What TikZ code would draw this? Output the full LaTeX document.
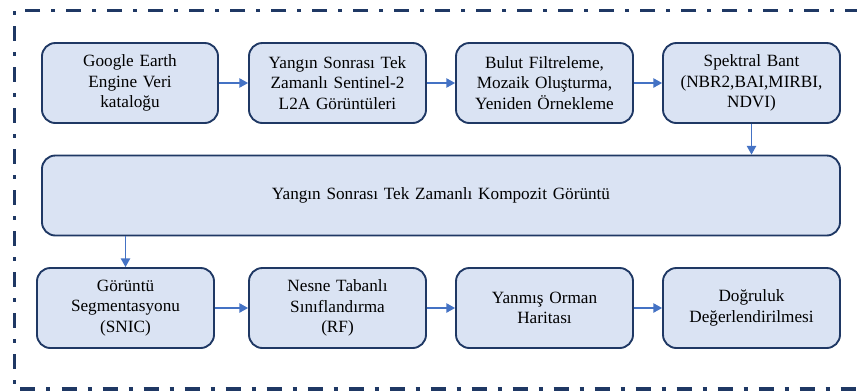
\documentclass[tikz,border=0pt]{standalone}
\usepackage{fontspec}
\setmainfont{Liberation Serif}
\usetikzlibrary{arrows.meta}
\definecolor{boxfill}{HTML}{DAE3F3}
\definecolor{boxline}{HTML}{1F3864}
\definecolor{arrowcol}{HTML}{4472C4}
\definecolor{framecol}{HTML}{1F3864}
\tikzset{
  procbox/.style={draw=boxline, line width=1.4pt, fill=boxfill, rounded corners=10pt,
    minimum height=60pt, text width=120pt, align=center, inner sep=0pt,
    font=\fontsize{12.9pt}{15.4pt}\selectfont},
  flow/.style={draw=arrowcol, line width=0.9pt, -{Triangle[length=6.5pt,width=7pt]}},
  frameline/.style={draw=framecol, line width=2.7pt, dash pattern=on 11.25pt off 8.25pt on 3pt off 8.25pt}
}
\begin{document}
\begin{tikzpicture}[x=0.75pt,y=-0.75pt]
\useasboundingbox (0,0) rectangle (857,390);
% frame
\coordinate (f1) at (860,10.5);
\coordinate (f2) at (14.5,10.5);
\coordinate (f3) at (14.5,389);
\coordinate (f4) at (860,389);
\draw[frameline] (f1) -- (f2) -- (f3) -- (f4);
% row 1
\node[procbox, minimum width=132pt] (a1) at (130,83) {Google Earth\\Engine Veri\\kataloğu};
\node[procbox, minimum width=132.75pt] (a2) at (337.5,83) {Yangın Sonrası Tek\\Zamanlı Sentinel-2\\L2A Görüntüleri};
\node[procbox, minimum width=132.75pt] (a3) at (544.5,83) {Bulut Filtreleme,\\Mozaik Oluşturma,\\Yeniden Örnekleme};
\node[procbox, minimum width=132.75pt] (a4) at (751.5,83) {Spektral Bant\\(NBR2,BAI,MIRBI,\\NDVI)};
% middle
\node[procbox, minimum width=598.5pt, text width=580pt] (m) at (441,195.5) {Yangın Sonrası Tek Zamanlı Kompozit Görüntü};
% row 3
\node[procbox, minimum width=132.75pt] (b1) at (125.5,308) {Görüntü\\Segmentasyonu\\(SNIC)};
\node[procbox, minimum width=132.75pt] (b2) at (337.5,308) {Nesne Tabanlı\\Sınıflandırma\\(RF)};
\node[procbox, minimum width=132.75pt] (b3) at (544.5,308) {Yanmış Orman\\Haritası};
\node[procbox, minimum width=132.75pt] (b4) at (751.5,308) {Doğruluk\\Değerlendirilmesi};
% connectors
\draw[flow] (a1) -- (a2);
\draw[flow] (a2) -- (a3);
\draw[flow] (a3) -- (a4);
\draw[flow] (a4.south) -- (a4.south |- m.north);
\draw[flow] (m.south -| b1.north) -- (b1.north);
\draw[flow] (b1) -- (b2);
\draw[flow] (b2) -- (b3);
\draw[flow] (b3) -- (b4);
\end{tikzpicture}
\end{document}
